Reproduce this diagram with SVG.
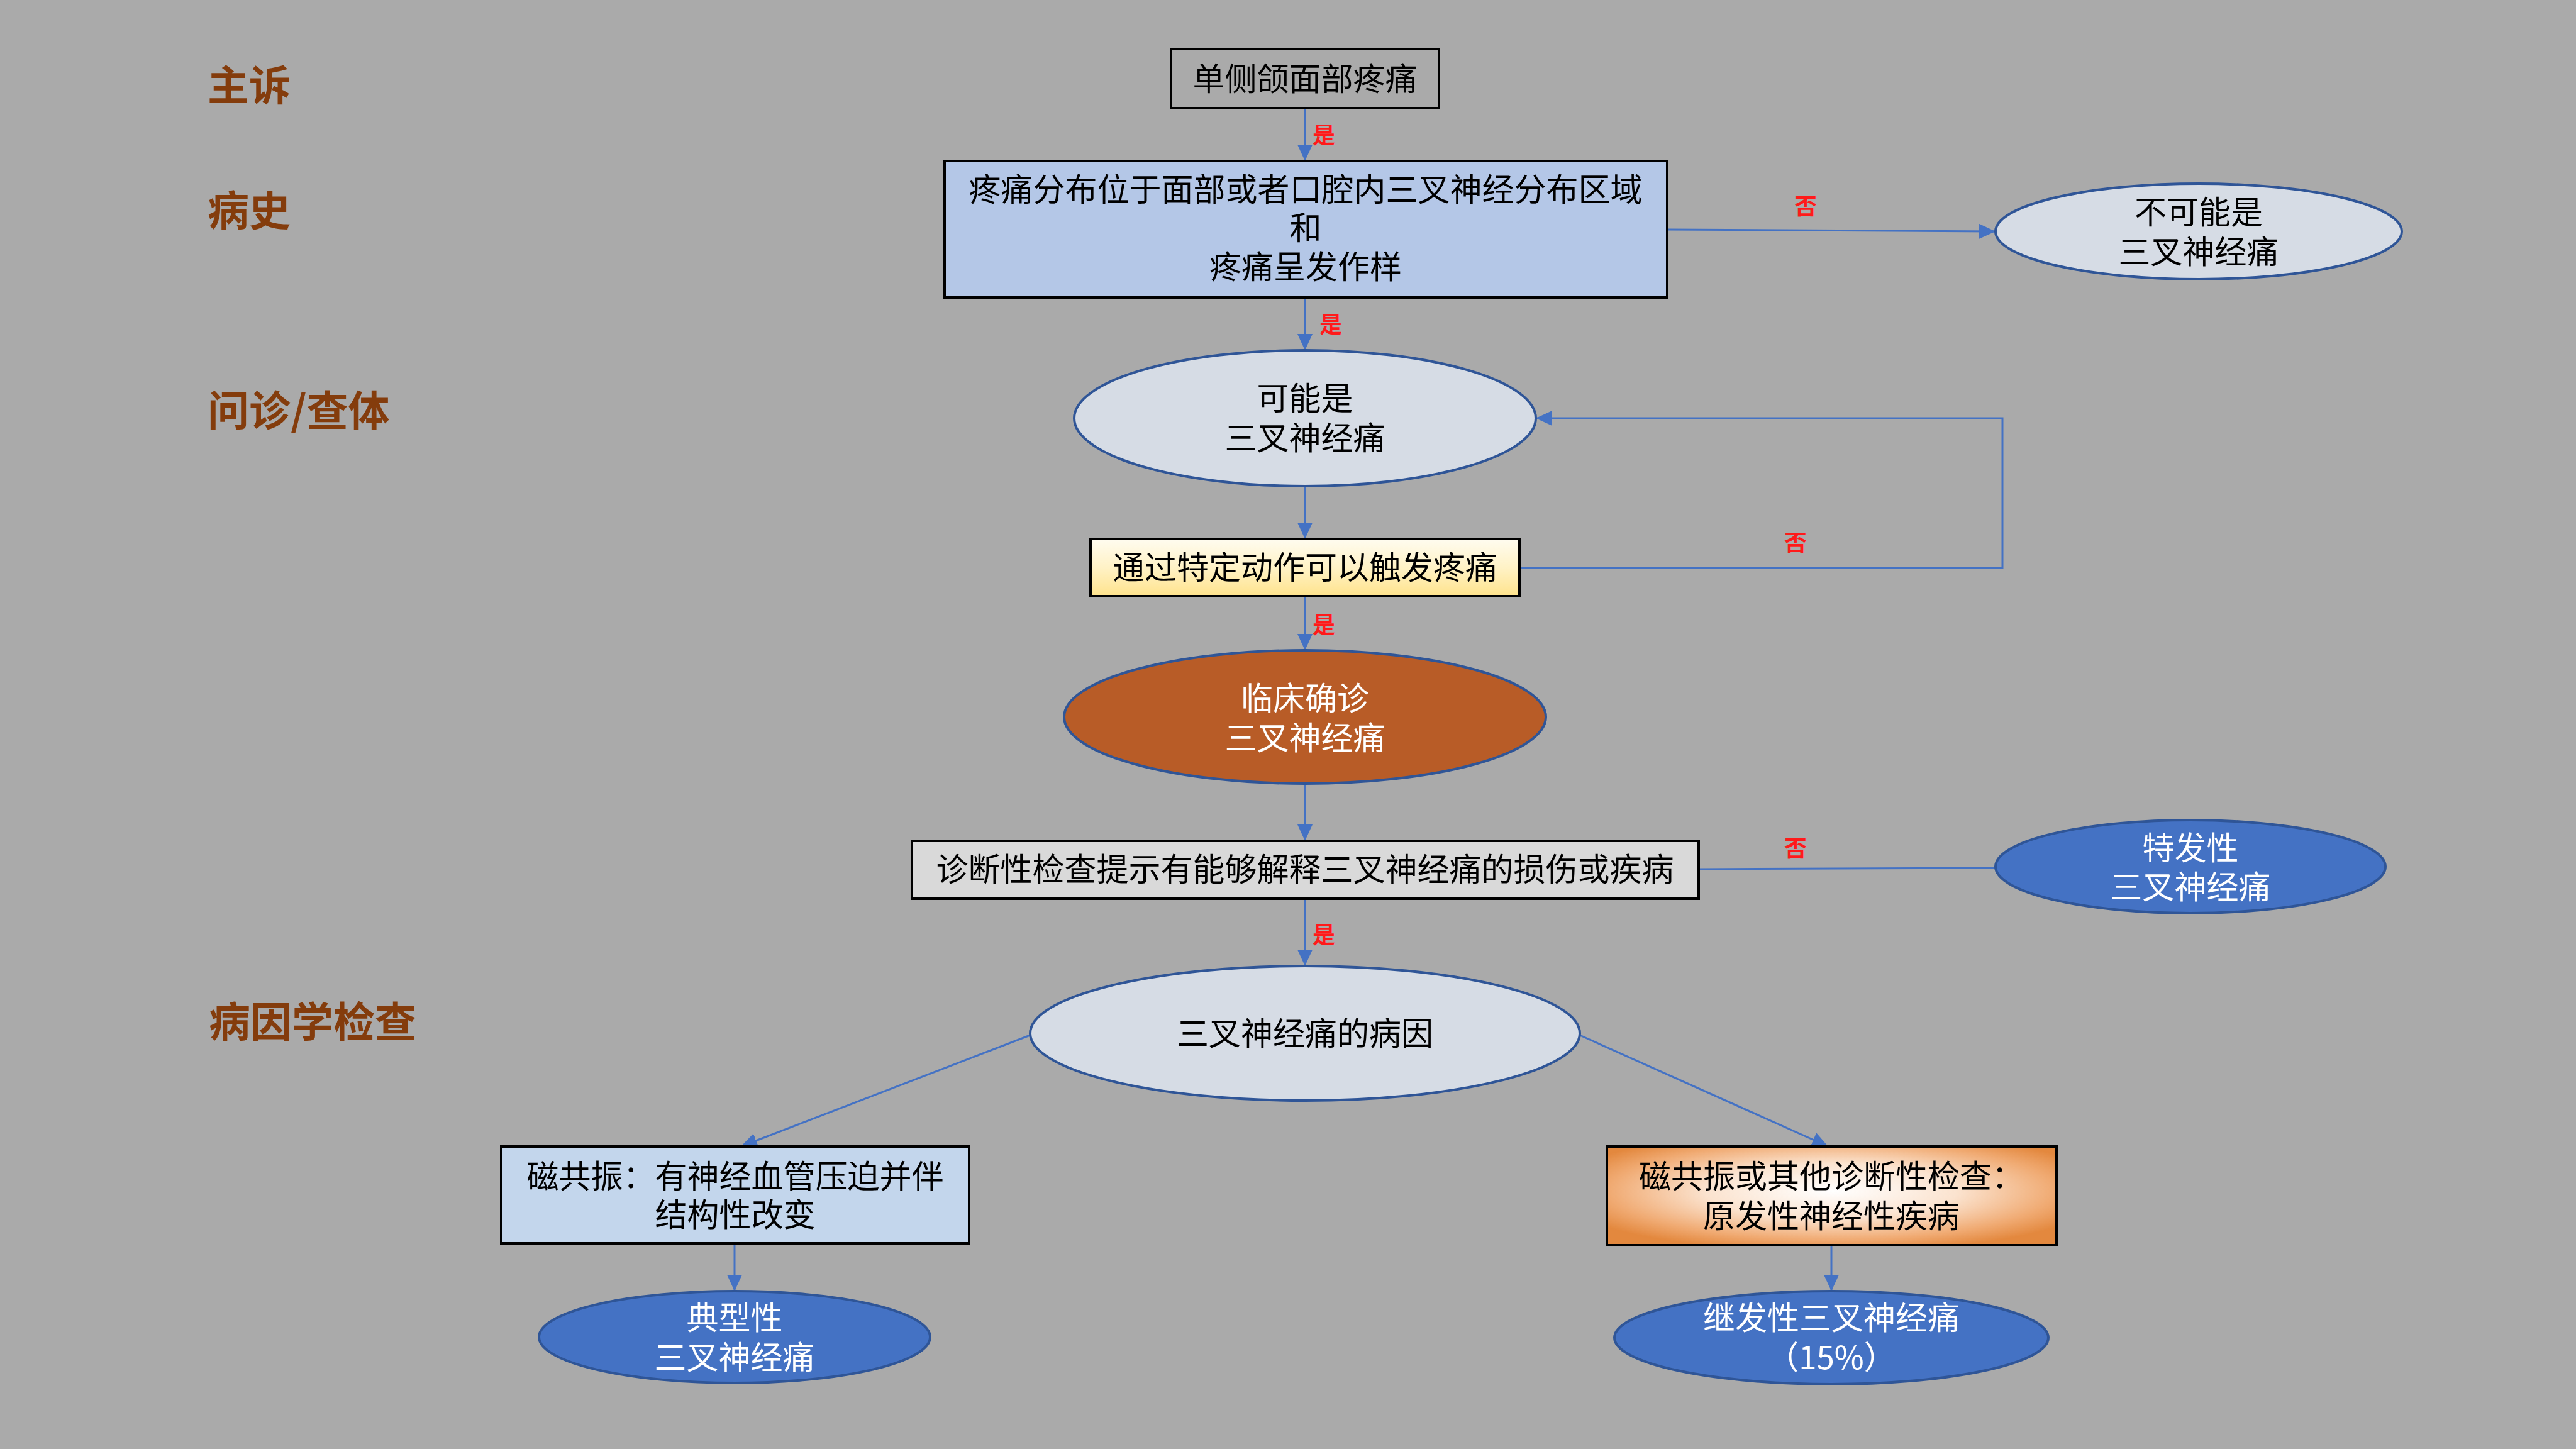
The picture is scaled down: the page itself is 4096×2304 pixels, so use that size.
<svg xmlns="http://www.w3.org/2000/svg" width="4096" height="2304" viewBox="0 0 4096 2304">
<defs>
<style>
.t{font-family:"Noto Sans CJK SC","Noto Sans CJK JP",sans-serif;font-size:51px;fill:#000;text-anchor:middle;dominant-baseline:central}
.w{fill:#fff}
.h{font-family:"Noto Sans CJK SC",sans-serif;font-size:66px;font-weight:bold;fill:#843C0C;dominant-baseline:central}
.y{font-family:"Noto Sans CJK SC",sans-serif;font-size:36px;font-weight:bold;fill:#FF1A1A;text-anchor:middle;dominant-baseline:central}
.box{stroke:#000;stroke-width:4}
.el{stroke:#2F5597;stroke-width:4}
.c{fill:none;stroke:#4472C4;stroke-width:3}
</style>
<marker id="a" markerUnits="userSpaceOnUse" markerWidth="26" markerHeight="24" refX="26" refY="12" orient="auto">
<path d="M0,0 L26,12 L0,24 z" fill="#4472C4"/>
</marker>
<linearGradient id="gy" x1="0" y1="0" x2="0" y2="1">
<stop offset="0" stop-color="#FFFCF0"/>
<stop offset="0.5" stop-color="#FFF2C6"/>
<stop offset="1" stop-color="#FFE38C"/>
</linearGradient>
<radialGradient id="go" cx="0.5" cy="0.45" r="0.62">
<stop offset="0" stop-color="#FFFFFF"/>
<stop offset="0.45" stop-color="#FBE3CF"/>
<stop offset="0.8" stop-color="#F0AA72"/>
<stop offset="1" stop-color="#E3883E"/>
</radialGradient>
</defs>
<rect width="4096" height="2304" fill="#AAAAAA"/>

<g id="stage-labels">
<text class="h" x="330" y="131">主诉</text>
<text class="h" x="330" y="330">病史</text>
<text class="h" x="330" y="648">问诊/查体</text>
<text class="h" x="332" y="1620">病因学检查</text>
</g>

<g id="connectors">
<line class="c" x1="2075" y1="172" x2="2075" y2="256" marker-end="url(#a)"/>
<line class="c" x1="2075" y1="473" x2="2075" y2="557" marker-end="url(#a)"/>
<line class="c" x1="2651" y1="365" x2="3173" y2="368" marker-end="url(#a)"/>
<line class="c" x1="2075" y1="773" x2="2075" y2="857" marker-end="url(#a)"/>
<polyline class="c" points="2416,903 3184,903 3184,665 2442,665" marker-end="url(#a)"/>
<line class="c" x1="2075" y1="948" x2="2075" y2="1034" marker-end="url(#a)"/>
<line class="c" x1="2075" y1="1246" x2="2075" y2="1337" marker-end="url(#a)"/>
<line class="c" x1="2701" y1="1382" x2="3173" y2="1380"/>
<line class="c" x1="2075" y1="1429" x2="2075" y2="1536" marker-end="url(#a)"/>
<line class="c" x1="1638" y1="1646" x2="1178" y2="1823" marker-end="url(#a)"/>
<line class="c" x1="2512" y1="1646" x2="2907" y2="1823" marker-end="url(#a)"/>
<line class="c" x1="1168" y1="1977" x2="1168" y2="2053" marker-end="url(#a)"/>
<line class="c" x1="2912" y1="1980" x2="2912" y2="2053" marker-end="url(#a)"/>
<text class="y" x="2105" y="212">是</text>
<text class="y" x="2116" y="513">是</text>
<text class="y" x="2105" y="991">是</text>
<text class="y" x="2105" y="1484">是</text>
<text class="y" x="2871" y="325">否</text>
<text class="y" x="2855" y="860">否</text>
<text class="y" x="2855" y="1346">否</text>
</g>

<g id="n1">
<rect class="box" x="1862" y="78" width="426" height="94" fill="#AAAAAA" stroke-width="3"/>
<text class="t" x="2075" y="122">单侧颌面部疼痛</text>
</g>
<g id="n2">
<rect class="box" x="1502" y="256" width="1149" height="217" fill="#B4C7E7"/>
<text class="t" x="2076" y="298">疼痛分布位于面部或者口腔内三叉神经分布区域</text>
<text class="t" x="2076" y="359">和</text>
<text class="t" x="2076" y="421">疼痛呈发作样</text>
</g>
<g id="n3">
<ellipse class="el" cx="3496" cy="368" rx="323" ry="76" fill="#D6DCE5"/>
<text class="t" x="3496" y="334">不可能是</text>
<text class="t" x="3496" y="397">三叉神经痛</text>
</g>
<g id="n4">
<ellipse class="el" cx="2075" cy="665" rx="367" ry="108" fill="#D6DCE5"/>
<text class="t" x="2075" y="630">可能是</text>
<text class="t" x="2075" y="693">三叉神经痛</text>
</g>
<g id="n5">
<rect class="box" x="1734" y="857" width="682" height="91" fill="url(#gy)"/>
<text class="t" x="2075" y="899">通过特定动作可以触发疼痛</text>
</g>
<g id="n6">
<ellipse class="el" cx="2075" cy="1140" rx="383" ry="106" fill="#B85C27"/>
<text class="t w" x="2075" y="1107">临床确诊</text>
<text class="t w" x="2075" y="1170">三叉神经痛</text>
</g>
<g id="n7">
<rect class="box" x="1450" y="1337" width="1251" height="92" fill="#D9D9D9"/>
<text class="t" x="2075" y="1379">诊断性检查提示有能够解释三叉神经痛的损伤或疾病</text>
</g>
<g id="n8">
<ellipse class="el" cx="3483" cy="1378" rx="310" ry="74" fill="#4472C4" stroke-width="3"/>
<text class="t w" x="3483" y="1345">特发性</text>
<text class="t w" x="3483" y="1407">三叉神经痛</text>
</g>
<g id="n9">
<ellipse class="el" cx="2075" cy="1643" rx="437" ry="107" fill="#D6DCE5"/>
<text class="t" x="2075" y="1640">三叉神经痛的病因</text>
</g>
<g id="n10">
<rect class="box" x="797" y="1823" width="744" height="154" fill="#C3D6EC"/>
<text class="t" x="1169" y="1867">磁共振：有神经血管压迫并伴</text>
<text class="t" x="1169" y="1928">结构性改变</text>
</g>
<g id="n11">
<rect class="box" x="2555" y="1823" width="715" height="157" fill="url(#go)"/>
<text class="t" x="2912" y="1867">磁共振或其他诊断性检查：</text>
<text class="t" x="2912" y="1930">原发性神经性疾病</text>
</g>
<g id="n12">
<ellipse class="el" cx="1168" cy="2126" rx="311" ry="73" fill="#4472C4" stroke-width="3"/>
<text class="t w" x="1168" y="2092">典型性</text>
<text class="t w" x="1168" y="2155">三叉神经痛</text>
</g>
<g id="n13">
<ellipse class="el" cx="2912" cy="2127" rx="345" ry="74" fill="#4472C4" stroke-width="3"/>
<text class="t w" x="2912" y="2092">继发性三叉神经痛</text>
<text class="t w" x="2912" y="2155">（15%）</text>
</g>
</svg>
